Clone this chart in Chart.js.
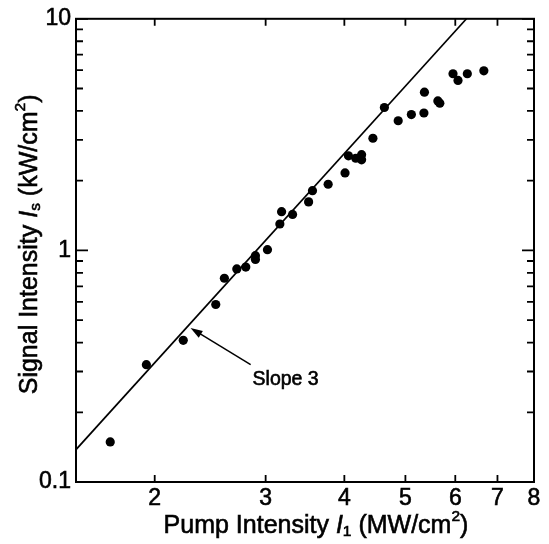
<!DOCTYPE html>
<html>
<head>
<meta charset="utf-8">
<script src="https://cdn.jsdelivr.net/npm/chart.js@4"></script>
<style>
  body { margin: 0; background: #fff; }
  canvas { display: block; }
</style>
</head>
<body>
<canvas id="chart" width="549" height="544"></canvas>
<script>
const pumpIntensity = [1.70, 1.94, 2.22, 2.50, 2.58, 2.70, 2.79, 2.89, 2.89, 3.02, 3.16, 3.18, 3.31,
  3.51, 3.56, 3.77, 4.01, 4.06, 4.17, 4.26, 4.26, 4.44, 4.63, 4.87, 5.11, 5.35, 5.36, 5.63, 5.67,
  5.95, 6.06, 6.27, 6.66];
const signalIntensity = [0.149, 0.321, 0.409, 0.584, 0.758, 0.832, 0.847, 0.949, 0.914, 1.007, 1.30, 1.47, 1.43,
  1.62, 1.81, 1.93, 2.16, 2.56, 2.50, 2.59, 2.46, 3.05, 4.14, 3.63, 3.86, 3.92, 4.82, 4.42, 4.32,
  5.79, 5.42, 5.79, 5.96];

// slope 3 guide line (end points)
const fitX = [1.5, 6.25];
const fitY = [0.138, 10];

// ticks
const xTicks = [2, 3, 4, 5, 6, 7, 8];
const yTicks = [0.1, 1, 10];
const yMinorTicks = [0.2, 0.3, 0.4, 0.5, 0.6, 0.7, 0.8, 0.9, 2, 3, 4, 5, 6, 7, 8, 9];

// annotation
const slopeLabel = "Slope 3";
const labelAt = [2.86, 0.277];
const arrowFrom = [2.84, 0.321];
const arrowTo = [2.28, 0.462];

const FONT = "'Liberation Sans', Arial, Helvetica, sans-serif";

// draws a string made of pieces (normal / italic / sub / sup) starting at x
function drawRich(ctx, parts, x, y, size) {
  parts.forEach(p => {
    let s = size, dy = 0, style = "";
    if (p.sub) { s = size * 0.62; dy = size * 0.22; }
    if (p.sup) { s = size * 0.62; dy = -size * 0.38; }
    if (p.italic) style = "italic ";
    ctx.font = style + s + "px " + FONT;
    ctx.fillText(p.t, x, y + dy);
    ctx.strokeText(p.t, x, y + dy);
    x += ctx.measureText(p.t).width;
  });
}
function richWidth(ctx, parts, size) {
  let w = 0;
  parts.forEach(p => {
    const s = (p.sub || p.sup) ? size * 0.62 : size;
    ctx.font = (p.italic ? "italic " : "") + s + "px " + FONT;
    w += ctx.measureText(p.t).width;
  });
  return w;
}

const xTitle = [{t: "Pump Intensity "}, {t: "I", italic: true}, {t: "1", sub: true}, {t: " (MW/cm"}, {t: "2", sup: true}, {t: ")"}];
const yTitle = [{t: "Signal Intensity "}, {t: "I", italic: true}, {t: "s", sub: true}, {t: " (kW/cm"}, {t: "2", sup: true}, {t: ")"}];

const framePlugin = {
  id: "frame",
  afterDraw(chart) {
    const ctx = chart.ctx;
    const a = chart.chartArea;
    const xs = chart.scales.x, ys = chart.scales.y;
    ctx.save();
    ctx.strokeStyle = "#000";
    ctx.fillStyle = "#000";

    // box
    ctx.lineWidth = 2;
    ctx.strokeRect(a.left, a.top, a.right - a.left, a.bottom - a.top);

    // inward ticks
    ctx.lineWidth = 1.8;
    ctx.beginPath();
    xTicks.forEach(v => {
      const px = xs.getPixelForValue(v);
      ctx.moveTo(px, a.bottom); ctx.lineTo(px, a.bottom - 7);
      ctx.moveTo(px, a.top); ctx.lineTo(px, a.top + 7);
    });
    yTicks.forEach(v => {
      const py = ys.getPixelForValue(v);
      ctx.moveTo(a.left, py); ctx.lineTo(a.left + 12, py);
      ctx.moveTo(a.right, py); ctx.lineTo(a.right - 12, py);
    });
    yMinorTicks.forEach(v => {
      const py = ys.getPixelForValue(v);
      ctx.moveTo(a.left, py); ctx.lineTo(a.left + 7, py);
      ctx.moveTo(a.right, py); ctx.lineTo(a.right - 7, py);
    });
    ctx.stroke();

    // arrow + label
    const x0 = xs.getPixelForValue(arrowFrom[0]), y0 = ys.getPixelForValue(arrowFrom[1]);
    const x1 = xs.getPixelForValue(arrowTo[0]), y1 = ys.getPixelForValue(arrowTo[1]);
    const ang = Math.atan2(y1 - y0, x1 - x0);
    ctx.lineWidth = 1.5;
    ctx.beginPath();
    ctx.moveTo(x0, y0);
    ctx.lineTo(x1 - 8 * Math.cos(ang), y1 - 8 * Math.sin(ang));
    ctx.stroke();
    ctx.beginPath();
    ctx.moveTo(x1, y1);
    ctx.lineTo(x1 - 12 * Math.cos(ang) + 4 * Math.sin(ang), y1 - 12 * Math.sin(ang) - 4 * Math.cos(ang));
    ctx.lineTo(x1 - 12 * Math.cos(ang) - 4 * Math.sin(ang), y1 - 12 * Math.sin(ang) + 4 * Math.cos(ang));
    ctx.closePath();
    ctx.fill();

    ctx.lineWidth = 0.6;
    ctx.font = "19.5px " + FONT;
    ctx.textAlign = "left";
    ctx.textBaseline = "middle";
    const lx = xs.getPixelForValue(labelAt[0]), ly = ys.getPixelForValue(labelAt[1]);
    ctx.fillText(slopeLabel, lx, ly);
    ctx.strokeText(slopeLabel, lx, ly);

    // axis titles
    const size = 25;
    const wx = richWidth(ctx, xTitle, size);
    drawRich(ctx, xTitle, (a.left + a.right) / 2 + 11 - wx / 2, 526, size);

    const wy = richWidth(ctx, yTitle, size);
    ctx.translate(30, (a.top + a.bottom) / 2 - 6);
    ctx.rotate(-Math.PI / 2);
    drawRich(ctx, yTitle, -wy / 2, 0, size);
    ctx.restore();
  }
};

new Chart(document.getElementById("chart"), {
  type: "scatter",
  data: {
    datasets: [
      {
        data: pumpIntensity.map((x, i) => ({x: x, y: signalIntensity[i]})),
        backgroundColor: "#000",
        borderWidth: 0,
        pointRadius: 4.6
      },
      {
        type: "line",
        data: fitX.map((x, i) => ({x: x, y: fitY[i]})),
        borderColor: "#000",
        borderWidth: 1.7,
        pointRadius: 0,
        fill: false
      }
    ]
  },
  options: {
    responsive: false,
    animation: false,
    devicePixelRatio: 1,
    layout: {padding: {left: 0, right: 15, top: 15, bottom: 0}},
    plugins: {legend: {display: false}, tooltip: {enabled: false}},
    scales: {
      x: {
        type: "logarithmic",
        min: 1.5,
        max: 8,
        afterBuildTicks: s => { s.ticks = xTicks.map(v => ({value: v})); },
        afterFit: s => { s.height = 62; },
        grid: {display: false, drawTicks: false},
        border: {display: false},
        ticks: {
          color: "#000",
          font: {size: 23, family: FONT},
          textStrokeColor: "#000",
          textStrokeWidth: 0.6,
          padding: 3,
          autoSkip: false,
          maxRotation: 0,
          callback: v => String(v)
        }
      },
      y: {
        type: "logarithmic",
        min: 0.1,
        max: 10,
        afterBuildTicks: s => { s.ticks = yTicks.map(v => ({value: v})); },
        afterFit: s => { s.width = 76; },
        grid: {display: false, drawTicks: false},
        border: {display: false},
        ticks: {
          color: "#000",
          font: {size: 23, family: FONT},
          textStrokeColor: "#000",
          textStrokeWidth: 0.6,
          padding: 5,
          autoSkip: false,
          callback: v => String(v)
        }
      }
    }
  },
  plugins: [framePlugin]
});
</script>
</body>
</html>
